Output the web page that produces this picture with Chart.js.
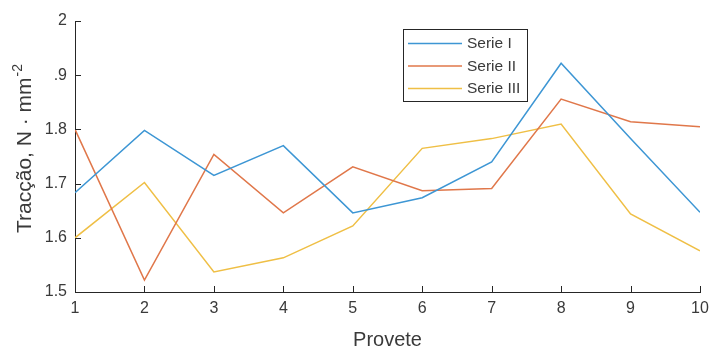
<!DOCTYPE html>
<html>
<head>
<meta charset="utf-8">
<script src="https://cdn.jsdelivr.net/npm/chart.js@4/dist/chart.umd.min.js"></script>
<style>
  html, body { margin: 0; padding: 0; background: #fff; }
  #wrap { width: 712px; height: 349px; }
</style>
</head>
<body>
<div id="wrap"><canvas id="c" width="712" height="349"></canvas></div>
<script>
// Provete numbers along the x axis
const provetes = [1, 2, 3, 4, 5, 6, 7, 8, 9, 10];

// Tensile strength readings (N·mm⁻²) for each series
const serieI   = [1.683, 1.798, 1.715, 1.770, 1.646, 1.674, 1.740, 1.922, 1.783, 1.647];
const serieII  = [1.800, 1.522, 1.754, 1.646, 1.731, 1.687, 1.691, 1.856, 1.814, 1.805];
const serieIII = [1.600, 1.702, 1.537, 1.563, 1.622, 1.765, 1.783, 1.810, 1.644, 1.576];

const seriesNames = ['Serie I', 'Serie II', 'Serie III'];

// Y tick values and their printed labels
const yTickValues = [1.5, 1.6, 1.7, 1.8, 1.9, 2.0];
const yTickLabels = ['1.5', '1.6', '1.7', '1.8', '.9', '2'];

const colors = ['#3d96d4', '#e0774a', '#efbf45'];
const axisColor = '#262626';
const textColor = '#3a3a3a';
const fontFamily = '"Liberation Sans", Arial, Helvetica, sans-serif';

function toPoints(values) {
  return values.map((v, i) => ({ x: provetes[i], y: v }));
}

// Inward tick marks, axis titles and the boxed legend
const decorations = {
  id: 'decorations',
  afterDraw(chart) {
    const { ctx, chartArea: a, scales } = chart;
    const xs = scales.x, ys = scales.y;
    ctx.save();
    ctx.strokeStyle = axisColor;
    ctx.lineWidth = 1;
    const tl = 6;
    ctx.beginPath();
    provetes.forEach(v => {
      const px = Math.round(xs.getPixelForValue(v)) + 0.5;
      ctx.moveTo(px, a.bottom);
      ctx.lineTo(px, a.bottom - tl);
    });
    yTickValues.forEach(v => {
      const py = Math.round(ys.getPixelForValue(v)) + 0.5;
      ctx.moveTo(a.left, py);
      ctx.lineTo(a.left + tl, py);
    });
    ctx.stroke();

    // X title
    ctx.fillStyle = textColor;
    ctx.font = '20px ' + fontFamily;
    ctx.textAlign = 'center';
    ctx.textBaseline = 'alphabetic';
    ctx.fillText('Provete', (a.left + a.right) / 2, 346);

    // Y title with superscript exponent
    const main = 'Tracção, N · mm';
    const sup = '-2';
    ctx.font = '21px ' + fontFamily;
    const wMain = ctx.measureText(main).width;
    ctx.font = '14px ' + fontFamily;
    const wSup = ctx.measureText(sup).width;
    const total = wMain + wSup;
    ctx.translate(31, 149);
    ctx.rotate(-Math.PI / 2);
    ctx.textAlign = 'left';
    ctx.font = '21px ' + fontFamily;
    ctx.fillText(main, -total / 2, 0);
    ctx.font = '14px ' + fontFamily;
    ctx.fillText(sup, -total / 2 + wMain + 1, -9);
    ctx.setTransform(1, 0, 0, 1, 0, 0);

    // Legend
    const bx = 403.5, by = 29.5, bw = 124, bh = 72;
    ctx.fillStyle = '#fff';
    ctx.fillRect(bx, by, bw, bh);
    ctx.strokeStyle = axisColor;
    ctx.lineWidth = 1;
    ctx.strokeRect(bx, by, bw, bh);
    const rows = [43, 65.5, 88];
    ctx.font = '15.5px ' + fontFamily;
    ctx.textBaseline = 'middle';
    ctx.textAlign = 'left';
    chart.data.datasets.forEach((ds, i) => {
      ctx.strokeStyle = ds.borderColor;
      ctx.lineWidth = 1.5;
      ctx.beginPath();
      ctx.moveTo(408, rows[i] + 0.5);
      ctx.lineTo(462, rows[i] + 0.5);
      ctx.stroke();
      ctx.fillStyle = textColor;
      ctx.fillText(ds.label, 467, rows[i] + 1);
    });
    ctx.restore();
  }
};

new Chart(document.getElementById('c'), {
  type: 'line',
  data: {
    datasets: [serieI, serieII, serieIII].map((vals, i) => ({
      label: seriesNames[i],
      data: toPoints(vals),
      borderColor: colors[i],
      backgroundColor: colors[i],
      borderWidth: 1.5,
      pointRadius: 0,
      tension: 0,
      fill: false
    }))
  },
  options: {
    responsive: false,
    animation: false,
    devicePixelRatio: 1,
    layout: { padding: { top: 21, right: 12, left: 0, bottom: 0 } },
    plugins: {
      legend: { display: false },
      tooltip: { enabled: false },
      title: { display: false }
    },
    scales: {
      x: {
        type: 'linear',
        min: 1,
        max: 10,
        offset: false,
        grid: { display: false, drawTicks: false },
        border: { display: true, color: axisColor, width: 1 },
        afterBuildTicks(scale) {
          scale.ticks = provetes.map(v => ({ value: v }));
        },
        afterFit(scale) {
          scale.height = 57;
          scale.paddingLeft = 0;
          scale.paddingRight = 0;
        },
        ticks: {
          padding: 7,
          color: textColor,
          font: { family: fontFamily, size: 16 },
          maxRotation: 0,
          autoSkip: false,
          callback: v => String(v)
        }
      },
      y: {
        type: 'linear',
        min: 1.5,
        max: 2.0,
        grid: { display: false, drawTicks: false },
        border: { display: true, color: axisColor, width: 1 },
        afterBuildTicks(scale) {
          scale.ticks = yTickValues.map(v => ({ value: v }));
        },
        afterFit(scale) {
          scale.width = 75;
          scale.paddingTop = 0;
          scale.paddingBottom = 0;
        },
        ticks: {
          padding: 8,
          color: textColor,
          font: { family: fontFamily, size: 16 },
          callback: v => {
            const idx = yTickValues.findIndex(t => Math.abs(t - v) < 1e-6);
            return idx >= 0 ? yTickLabels[idx] : '';
          }
        }
      }
    }
  },
  plugins: [decorations]
});
</script>
</body>
</html>
